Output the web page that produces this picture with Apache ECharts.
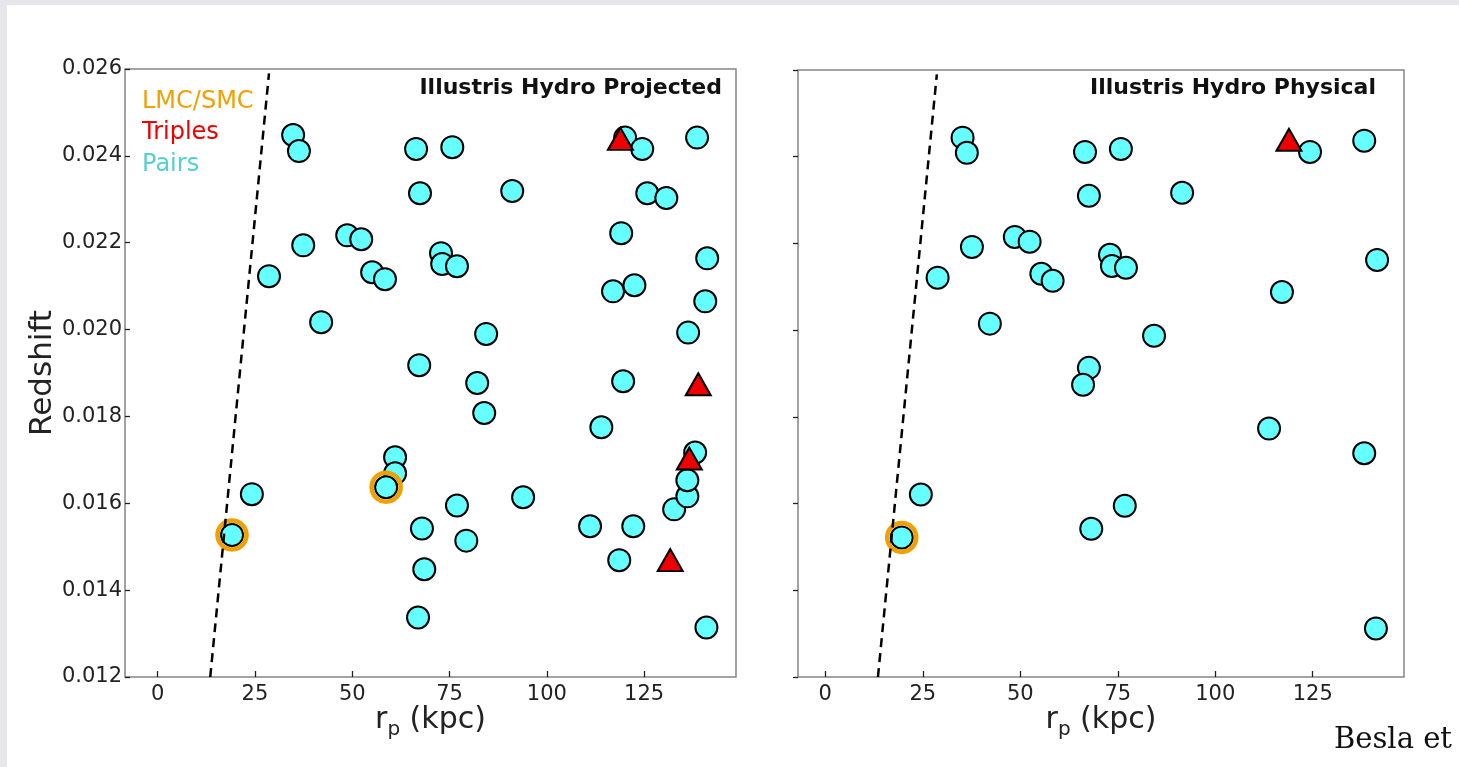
<!DOCTYPE html>
<html>
<head>
<meta charset="utf-8">
<script src="https://cdn.jsdelivr.net/npm/echarts@6/dist/echarts.min.js"></script>
<style>
html,body{margin:0;padding:0;background:#fff;}
#chart{width:1459px;height:767px;}
</style>
</head>
<body>
<div id="chart"></div>
<script>
// ---- data (rp in kpc, redshift) ----
const xTicks = [0, 25, 50, 75, 100, 125];
const yTicks = [0.012, 0.014, 0.016, 0.018, 0.020, 0.022, 0.024, 0.026];
const legendLabels = ['LMC/SMC', 'Triples', 'Pairs'];
const panelTitles = ['Illustris Hydro Projected', 'Illustris Hydro Physical'];

const cutLine = [[13.5, 0.012], [28.6, 0.0259]];

const projPairs = [
  [34.8, 0.02448], [36.3, 0.02411], [37.4, 0.02194], [28.6, 0.02123], [48.7, 0.02217],
  [52.3, 0.02208], [55.1, 0.02132], [58.4, 0.02116], [42.0, 0.02017], [66.4, 0.02416],
  [67.4, 0.02314], [75.7, 0.02420], [72.8, 0.02176], [73.1, 0.02151], [76.9, 0.02146],
  [91.1, 0.02319], [84.4, 0.01990], [67.2, 0.01918], [82.1, 0.01877], [83.9, 0.01808],
  [61.0, 0.01706], [61.0, 0.01669], [58.7, 0.01637], [24.2, 0.01621], [19.1, 0.01527],
  [67.9, 0.01542], [76.9, 0.01595], [79.3, 0.01514], [68.5, 0.01448], [66.9, 0.01337],
  [93.9, 0.01614], [111.1, 0.01547], [114.0, 0.01775], [118.6, 0.01469], [122.2, 0.01547],
  [132.7, 0.01586], [136.1, 0.01616], [136.1, 0.01653], [138.1, 0.01717], [136.3, 0.01993],
  [140.7, 0.02065], [141.2, 0.02164], [138.6, 0.02442], [120.1, 0.02442], [124.5, 0.02416],
  [125.8, 0.02314], [130.7, 0.02303], [119.1, 0.02222], [117.0, 0.02088], [122.5, 0.02102],
  [119.6, 0.01881], [141.0, 0.01314]
];
const projTriples = [[118.9, 0.02439], [138.9, 0.01874], [136.6, 0.01703], [131.7, 0.01469]];
const projLMC = [[19.1, 0.01527], [58.7, 0.01637]];

const physPairs = [
  [35.2, 0.02444], [36.3, 0.02409], [37.6, 0.02192], [28.8, 0.02121], [48.6, 0.02215],
  [52.4, 0.02204], [55.4, 0.02130], [58.3, 0.02114], [42.2, 0.02015], [66.6, 0.02411],
  [67.6, 0.02310], [75.8, 0.02418], [73.0, 0.02174], [73.5, 0.02148], [77.1, 0.02144],
  [91.5, 0.02317], [84.3, 0.01987], [67.6, 0.01913], [66.1, 0.01874], [113.8, 0.01773],
  [138.2, 0.01716], [24.5, 0.01621], [19.6, 0.01522], [76.8, 0.01595], [68.2, 0.01542],
  [141.2, 0.01312], [117.1, 0.02088], [141.5, 0.02162], [138.2, 0.02437], [124.3, 0.02411]
];
const physTriples = [[118.9, 0.02439]];
const physLMC = [[19.6, 0.01522]];

// ---- styles ----
const FONT = '"DejaVu Sans", sans-serif';
const CYAN = '#66ffff';
const ORANGE = '#f0a000';
const RED = '#ee0000';

function xAxisCfg(idx, min, max) {
  return {
    gridIndex: idx, type: 'value', min: min, max: max,
    axisLine: {show: false, onZero: false},
    splitLine: {show: false},
    axisTick: {show: true, inside: true, length: 6, customValues: xTicks, lineStyle: {color: '#222', width: 1.3}},
    axisLabel: {show: true, customValues: xTicks, fontSize: 21, fontFamily: FONT, color: '#222', margin: 7},
    name: '{a|r}{b|p}{a| (kpc)}',
    nameLocation: 'middle', nameGap: 23, nameMoveOverlap: false,
    nameTextStyle: {rich: {
      a: {fontSize: 30, fontFamily: FONT, color: '#222', lineHeight: 40},
      b: {fontSize: 20, fontFamily: FONT, color: '#222', verticalAlign: 'bottom', lineHeight: 22}
    }}
  };
}
function yAxisCfg(idx, showLabels) {
  return {
    gridIndex: idx, type: 'value', min: 0.012, max: 0.026, interval: 0.002,
    axisLine: {show: false, onZero: false},
    splitLine: {show: false},
    axisTick: {show: true, inside: showLabels, length: 5, lineStyle: {color: '#222', width: 1.3}},
    axisLabel: {show: showLabels, fontSize: 21, fontFamily: FONT, color: '#222', margin: 3,
      formatter: v => v.toFixed(3)},
    name: showLabels ? 'Redshift' : '',
    nameLocation: 'middle', nameRotate: 90, nameGap: 67, nameMoveOverlap: false,
    nameTextStyle: {fontSize: 31, fontFamily: FONT, color: '#222'}
  };
}
function panelSeries(idx, pairs, triples, lmc) {
  return [
    {type: 'scatter', xAxisIndex: idx, yAxisIndex: idx, data: pairs, symbol: 'circle', symbolSize: 22,
      itemStyle: {color: CYAN, borderColor: '#000', borderWidth: 2, opacity: 1}, z: 2, silent: true},
    {type: 'scatter', xAxisIndex: idx, yAxisIndex: idx, data: lmc, symbol: 'circle', symbolSize: 29,
      itemStyle: {color: 'rgba(0,0,0,0)', borderColor: ORANGE, borderWidth: 4.5, opacity: 1}, z: 3, silent: true},
    {type: 'scatter', xAxisIndex: idx, yAxisIndex: idx, data: triples, symbol: 'triangle', symbolSize: [25, 22],
      itemStyle: {color: RED, borderColor: '#000', borderWidth: 2, opacity: 1}, z: 4, silent: true},
    {type: 'line', xAxisIndex: idx, yAxisIndex: idx, data: cutLine, symbol: 'none',
      lineStyle: {color: '#000', width: 2.5, type: [9, 6]}, z: 5, silent: true}
  ];
}

const chart = echarts.init(document.getElementById('chart'), null, {renderer: 'canvas'});
chart.setOption({
  backgroundColor: '#ffffff',
  animation: false,
  grid: [
    {left: 125, top: 69, width: 611, height: 608, show: true, borderColor: '#858585', borderWidth: 1.5, backgroundColor: '#fff'},
    {left: 798, top: 70, width: 606, height: 607, show: true, borderColor: '#858585', borderWidth: 1.5, backgroundColor: '#fff'}
  ],
  xAxis: [xAxisCfg(0, -8.4, 148.6), xAxisCfg(1, -7.0, 148.4)],
  yAxis: [yAxisCfg(0, true), yAxisCfg(1, false)],
  series: [].concat(
    panelSeries(0, projPairs, projTriples, projLMC),
    panelSeries(1, physPairs, physTriples, physLMC)
  ),
  graphic: [
    {type: 'rect', shape: {x: 0, y: 0, width: 7, height: 767}, style: {fill: '#e6e6eb'}, z: -10, silent: true},
    {type: 'rect', shape: {x: 0, y: 0, width: 1459, height: 5}, style: {fill: '#e6e6eb'}, z: -10, silent: true},
    {type: 'text', x: 722, y: 88, style: {text: panelTitles[0], font: 'bold 22px ' + FONT, fill: '#111', textAlign: 'right', textVerticalAlign: 'middle'}, z: 10},
    {type: 'text', x: 1376, y: 88, style: {text: panelTitles[1], font: 'bold 22px ' + FONT, fill: '#111', textAlign: 'right', textVerticalAlign: 'middle'}, z: 10},
    {type: 'text', x: 142, y: 102, style: {text: legendLabels[0], font: '24px ' + FONT, fill: ORANGE, textAlign: 'left', textVerticalAlign: 'middle'}, z: 10},
    {type: 'text', x: 142, y: 133, style: {text: legendLabels[1], font: '24px ' + FONT, fill: RED, textAlign: 'left', textVerticalAlign: 'middle'}, z: 10},
    {type: 'text', x: 142, y: 165, style: {text: legendLabels[2], font: '24px ' + FONT, fill: '#55cfcf', textAlign: 'left', textVerticalAlign: 'middle'}, z: 10},
    {type: 'text', x: 1334, y: 755, style: {text: 'Besla et', font: '29px "DejaVu Serif", serif', fill: '#111', textAlign: 'left', textVerticalAlign: 'bottom'}, z: 10}
  ]
});
</script>
</body>
</html>
